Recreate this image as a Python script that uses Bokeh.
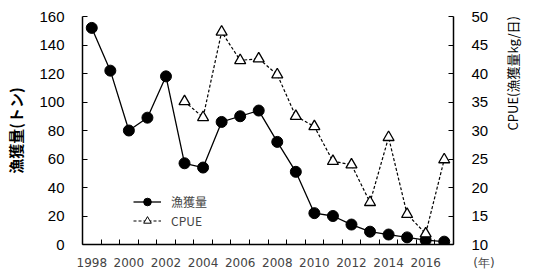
import math
from bokeh.plotting import figure
from bokeh.models import (FixedTicker, LinearAxis, Range1d, Legend, LegendItem,
                          ColumnDataSource, NumeralTickFormatter)
from bokeh.embed import file_html
from bokeh.resources import INLINE

years = list(range(1998, 2018))
catch = [152, 122, 80, 89, 118, 57, 54, 86, 90, 94, 72, 51, 22, 20, 14, 9, 7, 5, 3, 2]
cpue_years = list(range(2003, 2018))
cpue = [35.1, 32.3, 47.3, 42.3, 42.6, 39.8, 32.5, 30.7, 24.6, 24.0, 17.4, 28.8, 15.3, 11.9, 24.9]
x_labels = [1998, 2000, 2002, 2004, 2006, 2008, 2010, 2012, 2014, 2016]
left_ticks = [0, 20, 40, 60, 80, 100, 120, 140, 160]
right_ticks = [10, 15, 20, 25, 30, 35, 40, 45, 50]
unit_note = "(年)"

p = figure(width=534, height=277, output_backend="svg", toolbar_location=None,
           x_range=Range1d(1997.5, 2017.5), y_range=Range1d(0, 160),
           min_border_left=82, min_border_right=71, min_border_top=16, min_border_bottom=33)
p.outline_line_color = None
p.grid.visible = False
p.background_fill_color = "white"
p.border_fill_color = "white"

p.extra_y_ranges = {"cpue": Range1d(10, 50)}

sans = "Liberation Sans"
jp = "Noto Sans CJK JP"

# x axis (the unit note sits at the right end of the axis)
xend = years[-1] + 0.5
xa = p.xaxis[0]
xa.ticker = FixedTicker(ticks=x_labels + [xend], minor_ticks=[y - 0.5 for y in years] + [xend])
xa.formatter = NumeralTickFormatter(format="0")
xa.major_label_overrides = {xend: "\u00a0" * 16 + unit_note}
xa.major_tick_in = 0
xa.major_tick_out = 0
xa.minor_tick_in = 5
xa.minor_tick_out = 0
xa.minor_tick_line_color = "black"
xa.axis_line_color = "black"
xa.axis_line_width = 1.5
xa.major_label_text_font = "DejaVu Sans"
xa.major_label_text_font_size = "12px"
xa.major_label_text_color = "#444444"
xa.major_label_standoff = 11

# left axis
ya = p.yaxis[0]
ya.ticker = FixedTicker(ticks=left_ticks)
ya.minor_tick_line_color = None
ya.major_tick_in = 5
ya.major_tick_out = 0
ya.axis_line_width = 1.5
ya.major_label_text_font = sans
ya.major_label_text_font_size = "15px"
ya.major_label_text_color = "black"
ya.major_label_standoff = 18
ya.axis_label = "漁獲量(トン)"
ya.axis_label_text_font = jp
ya.axis_label_text_font_size = "15px"
ya.axis_label_text_font_style = "bold"
ya.axis_label_text_color = "black"
ya.axis_label_standoff = 10

ra = LinearAxis(y_range_name="cpue", ticker=FixedTicker(ticks=right_ticks))
ra.minor_tick_line_color = None
ra.major_tick_in = 5
ra.major_tick_out = 0
ra.axis_line_width = 1.5
ra.major_label_text_font = sans
ra.major_label_text_font_size = "15px"
ra.major_label_text_color = "black"
ra.major_label_standoff = 18
ra.axis_label = "CPUE(漁獲量kg/日)"
ra.axis_label_orientation = math.pi / 2
ra.axis_label_text_font = jp
ra.axis_label_text_font_size = "13px"
ra.axis_label_text_font_style = "normal"
ra.axis_label_text_color = "black"
ra.axis_label_standoff = 21
p.add_layout(ra, "right")

# series
cl = p.line(years, catch, line_color="black", line_width=1.3)
cs = p.scatter(years, catch, marker="circle", size=11, fill_color="black", line_color="black")
tl = p.line(cpue_years, cpue, line_color="black", line_width=1.2, line_dash="3 2", y_range_name="cpue")
ts = p.scatter(cpue_years, cpue, marker="triangle", size=11, fill_color="white",
               line_color="black", line_width=1.3, y_range_name="cpue")

# legend proxies (off-screen points)
src = ColumnDataSource(dict(x=[1900], y=[-1000]))
l1 = p.line("x", "y", source=src, line_color="black", line_width=1.3)
m1 = p.scatter("x", "y", source=src, marker="circle", size=7, fill_color="black", line_color="black")
l2 = p.line("x", "y", source=src, line_color="black", line_width=1.2, line_dash="3 2")
m2 = p.scatter("x", "y", source=src, marker="triangle", size=7, fill_color="white", line_color="black")

legend = Legend(items=[LegendItem(label="漁獲量", renderers=[l1, m1]),
                       LegendItem(label="CPUE", renderers=[l2, m2])],
                location=(51, 14), padding=0, margin=0, spacing=0,
                glyph_width=28, glyph_height=19, label_standoff=10,
                border_line_color=None, background_fill_alpha=0,
                label_text_font=jp, label_text_font_size="12px", label_text_color="#444444")
p.add_layout(legend, "center")

open("out.html", "w").write(file_html(p, INLINE))
